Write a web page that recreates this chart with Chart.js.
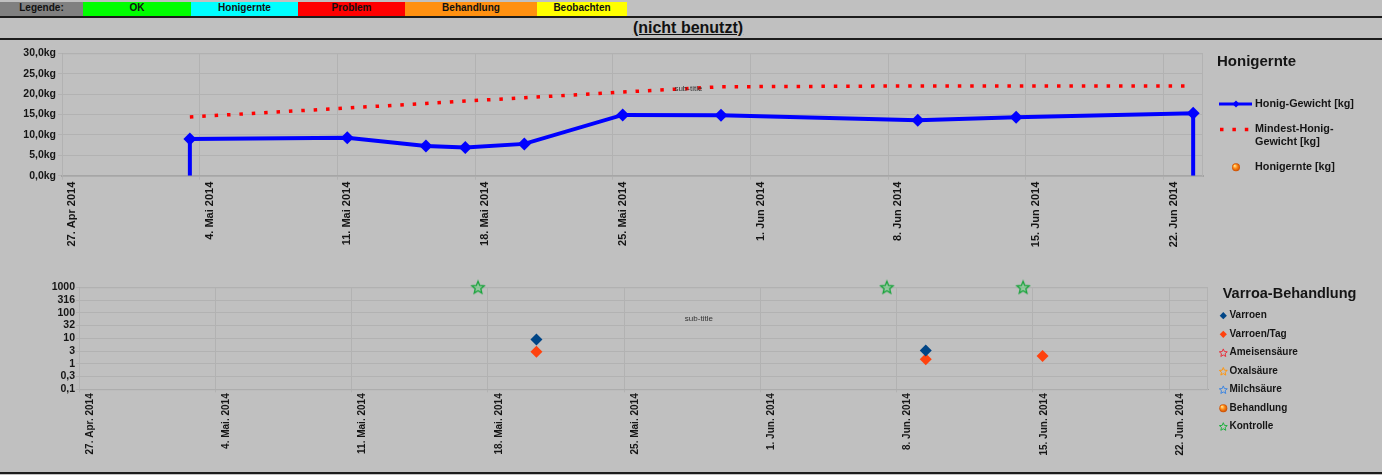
<!DOCTYPE html>
<html>
<head>
<meta charset="utf-8">
<script src="https://cdn.jsdelivr.net/npm/chart.js@4.4.1/dist/chart.umd.min.js"></script>
<style>
  html, body { margin: 0; padding: 0; background: #c0c0c0; }
  body { width: 1382px; height: 475px; position: relative; overflow: hidden; font-family: "Liberation Sans", Arial, sans-serif; }
  .key { position: absolute; top: 2px; height: 14px; line-height: 14px; text-align: center; font: bold 10px "Liberation Sans", Arial, sans-serif; color: #111; }
  .rule { position: absolute; left: 0; width: 1382px; height: 2px; background: #1c1c1c; }
  #title { position: absolute; left: 0; top: 19px; width: 1376px; line-height: 20px; text-align: center; font: bold 16px "Liberation Sans", Arial, sans-serif; text-decoration: underline; color: #111; }
  canvas { position: absolute; left: 0; }
</style>
</head>
<body>
<div class="key" style="left:0;width:83px;background:#808080">Legende:</div>
<div class="key" style="left:83px;width:108px;background:#00ff00">OK</div>
<div class="key" style="left:191px;width:107px;background:#00ffff">Honigernte</div>
<div class="key" style="left:298px;width:107px;background:#ff0000">Problem</div>
<div class="key" style="left:405px;width:132px;background:#ff9010">Behandlung</div>
<div class="key" style="left:537px;width:90px;background:#ffff00">Beobachten</div>
<div class="rule" style="top:16px"></div>
<div id="title">(nicht benutzt)</div>
<div class="rule" style="top:38px"></div>
<canvas id="honig" width="1382" height="225" style="top:40px"></canvas>
<canvas id="varroa" width="1382" height="205" style="top:265px"></canvas>
<div class="rule" style="top:472px"></div>

<script>
// ---- data ----
const honigDates = ['2014-05-03T12:00', '2014-05-03T12:00', '2014-05-11T12:00', '2014-05-15T12:00', '2014-05-17T12:00',
  '2014-05-20T12:00', '2014-05-25T12:00', '2014-05-30T12:00', '2014-06-09T12:00', '2014-06-14T12:00',
  '2014-06-23T12:00', '2014-06-23T12:00'];
const honigGewicht = [0, 9.0, 9.3, 7.3, 6.9, 7.8, 14.9, 14.8, 13.6, 14.3, 15.3, 0];

const mindestDates = ['2014-05-03T12:00', '2014-05-11T12:00', '2014-05-15T12:00', '2014-05-17T12:00', '2014-05-20T12:00',
  '2014-05-25T12:00', '2014-05-30T12:00', '2014-06-09T12:00', '2014-06-14T12:00', '2014-06-23T12:00'];
const mindestGewicht = [14.4, 16.6, 17.7, 18.3, 19.1, 20.5, 21.8, 22.0, 22.0, 22.0];

const ernteDates = [];
const honigernte = [];

const varroenDates = ['2014-05-20T12:00', '2014-06-09T12:00'];
const varroen = [9, 3.3];
const proTagDates = ['2014-05-20T12:00', '2014-06-09T12:00', '2014-06-15T12:00'];
const varroenProTag = [3, 1.5, 2];
const kontrolleDates = ['2014-05-17T12:00', '2014-06-07T12:00', '2014-06-14T12:00'];
const kontrolle = [1000, 1000, 1000];
const ameisensaeure = [];
const oxalsaeure = [];
const milchsaeure = [];
const behandlung = [];

const honigTicks = ['27. Apr 2014', '4. Mai 2014', '11. Mai 2014', '18. Mai 2014', '25. Mai 2014',
  '1. Jun 2014', '8. Jun 2014', '15. Jun 2014', '22. Jun 2014'];
const varroaTicks = ['27. Apr. 2014', '4. Mai. 2014', '11. Mai. 2014', '18. Mai. 2014', '25. Mai. 2014',
  '1. Jun. 2014', '8. Jun. 2014', '15. Jun. 2014', '22. Jun. 2014'];
const varroaYValues = [0.1, 0.316, 1, 3.16, 10, 31.6, 100, 316, 1000];
const varroaYLabels = ['0,1', '0,3', '1', '3', '10', '32', '100', '316', '1000'];

// ---- helpers ----
const axisStart = Date.UTC(2014, 3, 27);
const toDay = s => (Date.parse(s + 'Z') - axisStart) / 864e5;
const points = (dates, vals) => dates.map((d, i) => ({ x: toDay(d), y: vals[i] }));

const FONT = '"Liberation Sans", Arial, sans-serif';
const GRID = '#b2b2b2';
const AXIS = '#a2a2a2';
const TEXT = '#151515';
Chart.defaults.font.family = FONT;

function starPath(ctx, x, y, r) {
  ctx.beginPath();
  for (let k = 0; k < 10; k++) {
    const rr = k % 2 ? r * 0.45 : r;
    const a = -Math.PI / 2 + k * Math.PI / 5;
    ctx.lineTo(x + rr * Math.cos(a), y + rr * Math.sin(a));
  }
  ctx.closePath();
}

function sphere(ctx, x, y, r) {
  const g = ctx.createRadialGradient(x - r * 0.35, y - r * 0.4, r * 0.1, x, y, r);
  g.addColorStop(0, '#ffe08a');
  g.addColorStop(0.45, '#ff8c1a');
  g.addColorStop(1, '#c84b00');
  ctx.fillStyle = g;
  ctx.beginPath();
  ctx.arc(x, y, r, 0, Math.PI * 2);
  ctx.fill();
}

function diamond(ctx, x, y, r, color) {
  ctx.fillStyle = color;
  ctx.beginPath();
  ctx.moveTo(x, y - r); ctx.lineTo(x + r, y); ctx.lineTo(x, y + r); ctx.lineTo(x - r, y);
  ctx.closePath();
  ctx.fill();
}

// star image used as point style for "Kontrolle"
const starImg = document.createElement('canvas');
starImg.width = 16; starImg.height = 16;
(function () {
  const c = starImg.getContext('2d');
  starPath(c, 8, 8.5, 6.5);
  c.fillStyle = 'rgba(70,220,100,0.35)';
  c.fill();
  c.strokeStyle = '#17a33a';
  c.lineWidth = 1.3;
  c.stroke();
})();

function wrap(ctx, text, maxW) {
  const parts = text.match(/[^\s-]+[-\s]?/g);
  const lines = [];
  let cur = '';
  parts.forEach(p => {
    if (cur && ctx.measureText((cur + p).trim()).width > maxW) { lines.push(cur.trim()); cur = p; }
    else cur += p;
  });
  lines.push(cur.trim());
  return lines;
}

function drawMarker(ctx, ds, x, y) {
  ctx.save();
  switch (ds.legendMarker) {
    case 'line':
      ctx.strokeStyle = ds.borderColor; ctx.lineWidth = 3;
      ctx.beginPath(); ctx.moveTo(x - 17, y); ctx.lineTo(x + 16, y); ctx.stroke();
      diamond(ctx, x, y, 3.5, ds.borderColor);
      break;
    case 'dots':
      ctx.strokeStyle = ds.borderColor; ctx.lineWidth = ds.borderWidth;
      ctx.setLineDash(ds.borderDash);
      ctx.beginPath(); ctx.moveTo(x - 16, y); ctx.lineTo(x + 15, y); ctx.stroke();
      break;
    case 'sphere':
      sphere(ctx, x, y, 4);
      break;
    case 'diamond':
      diamond(ctx, x, y, 3.6, ds.backgroundColor);
      break;
    case 'star':
      starPath(ctx, x, y + 0.5, 4.2);
      ctx.strokeStyle = ds.borderColor; ctx.lineWidth = 1;
      ctx.stroke();
      break;
  }
  ctx.restore();
}

const sideLegend = {
  id: 'sideLegend',
  afterDraw(chart, args, o) {
    const ctx = chart.ctx;
    ctx.save();
    ctx.fillStyle = TEXT;
    ctx.textBaseline = 'middle';
    ctx.textAlign = 'left';
    ctx.font = o.titleFont;
    ctx.fillText(o.title, o.titleX, o.titleY);
    ctx.font = o.font;
    chart.data.datasets.forEach((ds, i) => {
      const y = o.rows[i];
      drawMarker(ctx, ds, o.markerX, y);
      ctx.fillStyle = TEXT;
      wrap(ctx, ds.label, o.maxWidth).forEach((line, k) => ctx.fillText(line, o.textX, y + k * o.lineHeight));
    });
    ctx.restore();
  }
};

const subTitle = {
  id: 'subTitle',
  afterDraw(chart, args, o) {
    const a = chart.chartArea, ctx = chart.ctx;
    ctx.save();
    ctx.font = '8px ' + FONT;
    ctx.fillStyle = '#333';
    ctx.textAlign = 'center';
    ctx.textBaseline = 'middle';
    ctx.fillText('sub-title', a.left + o.fx * (a.right - a.left), a.top + o.fy * (a.bottom - a.top));
    ctx.restore();
  }
};

const plotFrame = {
  id: 'plotFrame',
  beforeDatasetsDraw(chart) {
    const a = chart.chartArea, ctx = chart.ctx;
    ctx.save();
    ctx.strokeStyle = GRID;
    ctx.lineWidth = 1;
    ctx.strokeRect(a.left + 0.5, a.top + 0.5, a.right - a.left - 1, a.bottom - a.top);
    ctx.restore();
  }
};

Chart.register(sideLegend, subTitle, plotFrame);

// ---- Honigernte ----
new Chart(document.getElementById('honig'), {
  type: 'line',
  data: {
    datasets: [
      {
        label: 'Honig-Gewicht [kg]',
        data: points(honigDates, honigGewicht),
        borderColor: '#0000ff',
        backgroundColor: '#0000ff',
        borderWidth: 4,
        pointStyle: 'rectRot',
        pointRadius: c => (c.raw && c.raw.y === 0 ? 0 : 6.5),
        pointBorderWidth: 0,
        legendMarker: 'line'
      },
      {
        label: 'Mindest-Honig-Gewicht [kg]',
        data: points(mindestDates, mindestGewicht),
        borderColor: '#ff0000',
        borderWidth: 3.5,
        borderDash: [3.5, 8.9],
        borderCapStyle: 'butt',
        pointRadius: 0,
        legendMarker: 'dots'
      },
      {
        label: 'Honigernte [kg]',
        data: points(ernteDates, honigernte),
        showLine: false,
        backgroundColor: '#ff8c1a',
        legendMarker: 'sphere'
      }
    ]
  },
  options: {
    responsive: false,
    animation: false,
    events: [],
    layout: { padding: { top: 13.3, right: 179, bottom: 0, left: 0 } },
    plugins: {
      legend: { display: false },
      tooltip: { enabled: false },
      subTitle: { fx: 0.549, fy: 0.294 },
      sideLegend: {
        title: 'Honigernte', titleFont: 'bold 15px ' + FONT, titleX: 1217, titleY: 22.3,
        font: 'bold 10.8px ' + FONT, markerX: 1236, textX: 1255, rows: [64, 89.5, 127.3],
        maxWidth: 110, lineHeight: 12.7
      }
    },
    scales: {
      x: {
        type: 'linear', min: 0, max: 58,
        afterBuildTicks: s => { s.ticks = honigTicks.map((t, i) => ({ value: i * 7 })); },
        afterFit: s => { s.height = 89.3; },
        grid: { color: GRID, tickLength: 4 },
        border: { color: AXIS, width: 2 },
        ticks: {
          autoSkip: false, minRotation: 90, maxRotation: 90, padding: 2, labelOffset: 10,
          color: TEXT, font: { size: 11, weight: 'bold' },
          callback: (v, i) => honigTicks[i]
        }
      },
      y: {
        min: 0, max: 30,
        afterFit: s => { s.width = 62; },
        grid: { color: GRID, tickLength: 4 },
        border: { color: AXIS, width: 1 },
        ticks: {
          stepSize: 5, padding: 2, color: TEXT, font: { size: 10.5, weight: 'bold' },
          callback: v => v.toFixed(1).replace('.', ',') + 'kg'
        }
      }
    }
  }
});

// ---- Varroa-Behandlung ----
new Chart(document.getElementById('varroa'), {
  type: 'scatter',
  data: {
    datasets: [
      { label: 'Varroen', data: points(varroenDates, varroen), backgroundColor: '#004586', borderColor: '#004586',
        pointStyle: 'rectRot', pointRadius: 6, pointBorderWidth: 0, legendMarker: 'diamond' },
      { label: 'Varroen/Tag', data: points(proTagDates, varroenProTag), backgroundColor: '#ff420e', borderColor: '#ff420e',
        pointStyle: 'rectRot', pointRadius: 6, pointBorderWidth: 0, legendMarker: 'diamond' },
      { label: 'Ameisensäure', data: ameisensaeure, borderColor: '#e8303c', backgroundColor: '#e8303c', legendMarker: 'star' },
      { label: 'Oxalsäure', data: oxalsaeure, borderColor: '#ff950e', backgroundColor: '#ff950e', legendMarker: 'star' },
      { label: 'Milchsäure', data: milchsaeure, borderColor: '#3d85e0', backgroundColor: '#3d85e0', legendMarker: 'star' },
      { label: 'Behandlung', data: behandlung, backgroundColor: '#ff8c1a', legendMarker: 'sphere' },
      { label: 'Kontrolle', data: points(kontrolleDates, kontrolle), borderColor: '#1fb03f', backgroundColor: '#1fb03f',
        pointStyle: starImg, clip: false, legendMarker: 'star' }
    ]
  },
  options: {
    responsive: false,
    animation: false,
    events: [],
    layout: { padding: { top: 22.3, right: 174, bottom: 0, left: 0 } },
    plugins: {
      legend: { display: false },
      tooltip: { enabled: false },
      subTitle: { fx: 0.549, fy: 0.305 },
      sideLegend: {
        title: 'Varroa-Behandlung', titleFont: 'bold 14.5px ' + FONT, titleX: 1222.7, titleY: 29,
        font: 'bold 10px ' + FONT, markerX: 1223.3, textX: 1229.5,
        rows: [50.7, 69.3, 87.6, 106.2, 124.6, 143.2, 161.4], maxWidth: 140, lineHeight: 12
      }
    },
    scales: {
      x: {
        type: 'linear', min: 0, max: 58,
        afterBuildTicks: s => { s.ticks = varroaTicks.map((t, i) => ({ value: i * 7 })); },
        afterFit: s => { s.height = 80.7; },
        grid: { color: GRID, tickLength: 3 },
        border: { color: AXIS, width: 1 },
        ticks: {
          autoSkip: false, minRotation: 90, maxRotation: 90, padding: 1, labelOffset: 11,
          color: TEXT, font: { size: 10, weight: 'bold' },
          callback: (v, i) => varroaTicks[i]
        }
      },
      y: {
        type: 'logarithmic', min: 0.1, max: 1000,
        afterBuildTicks: s => { s.ticks = varroaYValues.map(v => ({ value: v })); },
        afterFit: s => { s.width = 79; },
        grid: { color: GRID, tickLength: 3 },
        border: { color: AXIS, width: 1 },
        ticks: {
          autoSkip: false, padding: 1, color: TEXT, font: { size: 10.5, weight: 'bold' },
          callback: (v, i) => varroaYLabels[i]
        }
      }
    }
  }
});
</script>
</body>
</html>
